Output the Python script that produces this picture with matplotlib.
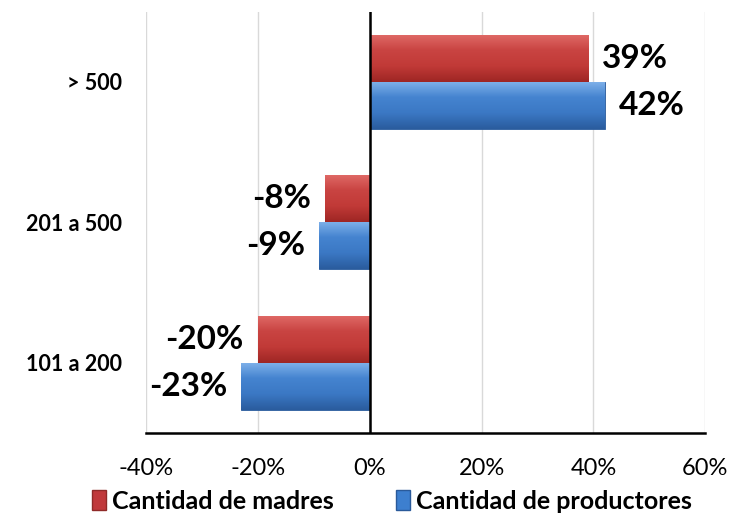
import numpy as np
import matplotlib.pyplot as plt
from matplotlib.colors import LinearSegmentedColormap
from matplotlib.patches import Patch

# data
categories = ["101 a 200", "201 a 500", "> 500"]
madres = [-20, -8, 39]
productores = [-23, -9, 42]
series_names = ["Cantidad de madres", "Cantidad de productores"]
xticks = [-40, -20, 0, 20, 40, 60]

plt.rcParams['font.family'] = ['Lato', 'DejaVu Sans']

fig = plt.figure(figsize=(7.37, 5.17), dpi=100)
ax = fig.add_axes([0.198, 0.1625, 0.759, 0.815])

y = np.arange(len(categories))
h = 0.335

# gradient colours for the bevelled look
red_cmap = LinearSegmentedColormap.from_list("r", ["#9e2624", "#c13a37", "#c94442", "#e06a67"])
blue_cmap = LinearSegmentedColormap.from_list("b", ["#2a5c9e", "#3b78c4", "#4584d0", "#80b2ea"])

bars_m = ax.barh(y + h / 2, madres, height=h, color="#c0393b", edgecolor="#8f2a28", linewidth=0.6, zorder=3)
bars_p = ax.barh(y - h / 2, productores, height=h, color="#3d7fcf", edgecolor="#2a5a9a", linewidth=0.6, zorder=3)

grad = np.linspace(0, 1, 100).reshape(-1, 1)
for bars, cmap in [(bars_m, red_cmap), (bars_p, blue_cmap)]:
    for b in bars:
        x0, y0 = b.get_x(), b.get_y()
        w, hh = b.get_width(), b.get_height()
        im = ax.imshow(grad, cmap=cmap, aspect="auto", origin="lower",
                       extent=[x0, x0 + w, y0, y0 + hh], zorder=3.5)
        im.set_clip_path(b)

ax.set_xlim(-40, 60)
ax.set_ylim(-0.5, 2.5)
ax.set_xticks(xticks)
ax.set_xticklabels([f"{t}%" for t in xticks], fontsize=17)
ax.set_yticks(y)
ax.set_yticklabels(categories, fontsize=15.5, fontweight="bold")
ax.tick_params(axis="x", length=0, pad=18)
ax.tick_params(axis="y", length=0, pad=17)

ax.grid(axis="x", color="#d9d9d9", linewidth=1, zorder=0)
ax.axvline(0, color="black", linewidth=1.8, zorder=5)
for s in ["left", "right", "top"]:
    ax.spines[s].set_visible(False)
ax.spines["bottom"].set_linewidth(1.8)

# value labels
for bars, vals in [(bars_m, madres), (bars_p, productores)]:
    for b, v in zip(bars, vals):
        yc = b.get_y() + b.get_height() / 2
        if v >= 0:
            ax.text(v + 2.5, yc, f"{v}%", ha="left", va="center", fontsize=24, fontweight="bold", zorder=6)
        else:
            ax.text(v - 2.5, yc, f"{v}%", ha="right", va="center", fontsize=24, fontweight="bold", zorder=6)

handles = [Patch(facecolor="#c0393b", edgecolor="#8f2a28"),
           Patch(facecolor="#3d7fcf", edgecolor="#2a5a9a")]
fig.legend(handles, series_names, loc="lower center", bbox_to_anchor=(0.532, -0.035), ncol=2,
           frameon=False, prop={"weight": "bold", "size": 18}, handlelength=0.55, handleheight=0.85,
           handletextpad=0.25, columnspacing=2.5)

fig.savefig("out.png", dpi=100)
